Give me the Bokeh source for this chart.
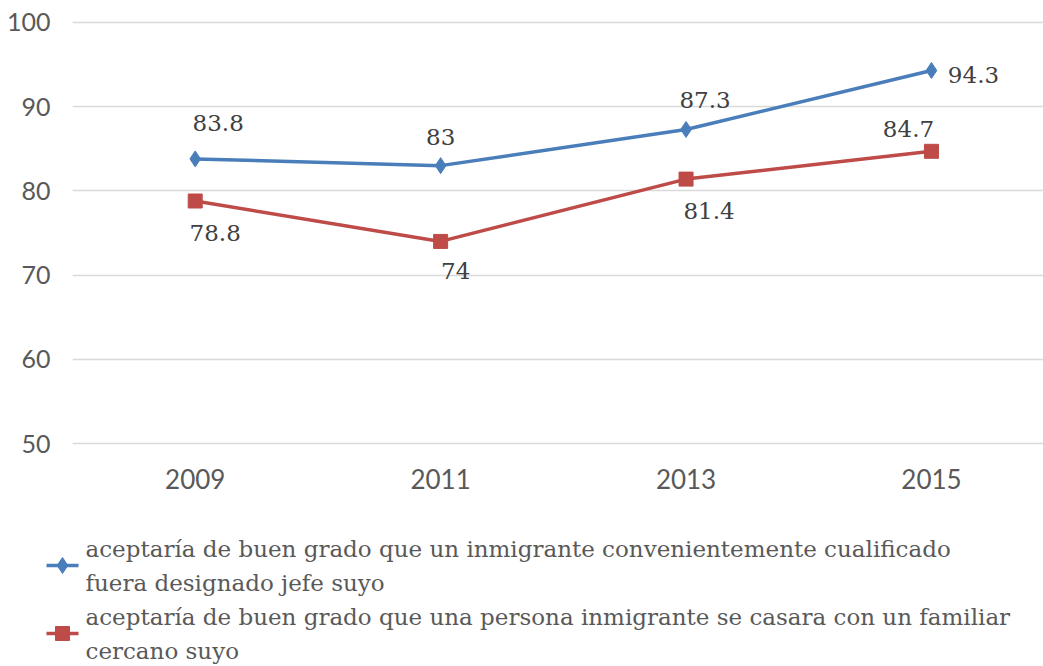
from bokeh.plotting import figure
from bokeh.models import FixedTicker, Range1d
from bokeh.core.properties import value
from bokeh.embed import file_html
from bokeh.resources import INLINE

years = [2009, 2011, 2013, 2015]
jefe = [83.8, 83.0, 87.3, 94.3]
familiar = [78.8, 74.0, 81.4, 84.7]
jefe_labels = ["83.8", "83", "87.3", "94.3"]
familiar_labels = ["78.8", "74", "81.4", "84.7"]
y_ticks = [50, 60, 70, 80, 90, 100]
name_jefe = ["aceptaría de buen grado que un inmigrante convenientemente cualificado",
             "fuera designado jefe suyo"]
name_familiar = ["aceptaría de buen grado que una persona inmigrante se casara con un familiar",
                 "cercano suyo"]

BLUE = "#4a7ebb"
RED = "#be4b48"
SERIF = "DejaVu Serif"
SANS = "Lato"

p = figure(width=1043, height=505, output_backend="svg", toolbar_location=None,
           x_range=Range1d(2008.0, 2015.913), y_range=Range1d(49.525, 100.475),
           min_border_left=72, min_border_right=0, min_border_top=18, min_border_bottom=58)
p.outline_line_color = None
p.ygrid.grid_line_color = "#d9d9d9"
p.ygrid.grid_line_width = 1.5
p.xgrid.grid_line_color = None
p.ygrid.ticker = FixedTicker(ticks=y_ticks)
p.yaxis.ticker = FixedTicker(ticks=y_ticks)
p.xaxis.ticker = FixedTicker(ticks=years)
for ax in (p.xaxis[0], p.yaxis[0]):
    ax.axis_line_color = None
    ax.major_tick_line_color = None
    ax.minor_tick_line_color = None
    ax.major_label_text_font = SANS
    ax.major_label_text_color = "#595959"
p.xaxis.major_label_text_font_size = "26px"
p.yaxis.major_label_text_font_size = "25px"
p.yaxis.major_label_standoff = 16
p.xaxis.major_label_standoff = 15

p.line(years, jefe, line_color=BLUE, line_width=3.5)
p.scatter(years, jefe, marker="diamond", size=16, fill_color=BLUE, line_color=BLUE)
p.line(years, familiar, line_color=RED, line_width=3.5)
p.scatter(years, familiar, marker="square", size=14, fill_color=RED, line_color=RED)

jefe_dx = [23, 0, 19, 42]
jefe_dy = [-36, -29, -29, 5]
fam_dx = [20, 15, 23, -23]
fam_dy = [32, 30, 32, -22]
p.text(years, jefe, text=jefe_labels, x_offset=jefe_dx, y_offset=jefe_dy,
       text_align="center", text_baseline="middle", text_font=value(SERIF),
       text_font_size="23px", text_color="#404040")
p.text(years, familiar, text=familiar_labels, x_offset=fam_dx, y_offset=fam_dy,
       text_align="center", text_baseline="middle", text_font=value(SERIF),
       text_font_size="23px", text_color="#404040")

# legend drawn in its own small figure (page-pixel coordinates)
lg = figure(width=1043, height=161, output_backend="svg", toolbar_location=None,
            x_range=Range1d(0, 1043), y_range=Range1d(161, 0),
            min_border=0, x_axis_location=None, y_axis_location=None)
lg.outline_line_color = None
lg.grid.grid_line_color = None

entries = [(name_jefe, BLUE, "diamond", 16, 60), (name_familiar, RED, "square", 14, 128)]
for lines, color, marker, size, yc in entries:
    lg.segment(x0=[46], y0=[yc], x1=[78], y1=[yc], line_color=color, line_width=3.5)
    lg.scatter(x=[62], y=[yc], marker=marker, size=size, fill_color=color, line_color=color)
    lg.text(x=[85, 85], y=[yc - 17, yc + 17], text=lines, text_align="left",
            text_baseline="middle", text_font=value(SERIF), text_font_size="23px",
            text_color="#595959")

open("out.html", "w").write(file_html([p, lg], INLINE))
